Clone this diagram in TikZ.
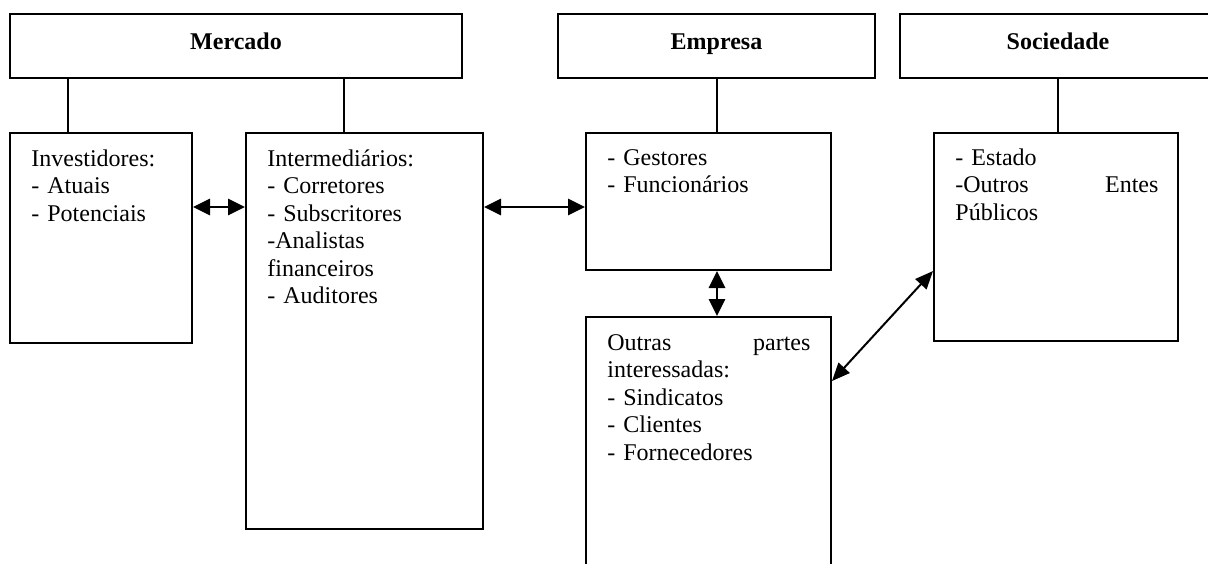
\documentclass[tikz,border=0pt]{standalone}
\usepackage{fontspec}
\setmainfont{Liberation Serif}
\usetikzlibrary{arrows.meta}
\begin{document}
\begin{tikzpicture}[x=0.5pt,y=-0.5pt,
  box/.style={draw, line width=1pt, rectangle, inner sep=0pt},
  title/.style={anchor=base, inner sep=0pt, font=\fontsize{12}{13.75}\selectfont\bfseries},
  txt/.style={anchor=base west, inner sep=0pt, align=left, font=\fontsize{12}{13.75}\selectfont},
  conn/.style={line width=0.8pt},
  dbl/.style={{Triangle[length=8.5pt,width=8pt]}-{Triangle[length=8.5pt,width=8pt]}, line width=1.4pt},
  dbldiag/.style={{Triangle[length=9pt,width=7.5pt]}-{Triangle[length=9pt,width=7.5pt]}, line width=1pt}]
\useasboundingbox (0,0) rectangle (1208,563);
\clip (0,0) rectangle (1208,563);
% top boxes
\node[box, minimum width=226pt, minimum height=32pt] (mercado) at (236,46) {};
\node[title] (tmerc) at (236,49) {Mercado};
\node[box, minimum width=158.5pt, minimum height=32pt] (empresa) at (716.5,46) {};
\node[title] (temp) at (716.5,49) {Empresa};
\node[box, minimum width=158pt, minimum height=32pt] (sociedade) at (1058,46) {};
\node[title] (tsoc) at (1058,49) {Sociedade};
% lower boxes
\node[box, minimum width=91pt, minimum height=105pt] (invest) at (101,238) {};
\node[txt, text width=75pt] (tinv) at (31,166) {Investidores:\\- Atuais\\- Potenciais};
\node[box, minimum width=118.5pt, minimum height=198pt] (interm) at (364.5,331) {};
\node[txt, text width=98pt] (tint) at (267,166) {Intermediários:\\- Corretores\\- Subscritores\\-Analistas\\financeiros\\- Auditores};
\node[box, minimum width=122.5pt, minimum height=68.5pt] (gest) at (708.5,201.5) {};
\node[txt, text width=101.5pt] (tgest) at (607,165) {- Gestores\\- Funcionários};
\node[box, minimum width=122.5pt, minimum height=151.5pt] (outras) at (708.5,468.5) {};
\node[txt, text width=101.5pt] (tout) at (607,350) {\makebox[101.5pt][s]{Outras\hfill partes}\\interessadas:\\- Sindicatos\\- Clientes\\- Fornecedores};
\node[box, minimum width=122pt, minimum height=104pt] (estado) at (1056,237) {};
\node[txt, text width=101.5pt] (test) at (955,165) {- Estado\\\makebox[101.5pt][s]{-Outros\hfill Entes}\\Públicos};
% vertical connectors
\coordinate (l1) at (68,0);
\coordinate (l2) at (344,0);
\coordinate (l3) at (717,0);
\coordinate (l4) at (1058,0);
\draw[conn] (mercado.south -| l1) -- (invest.north -| l1);
\draw[conn] (mercado.south -| l2) -- (interm.north -| l2);
\draw[conn] (empresa.south -| l3) -- (gest.north -| l3);
\draw[conn] (sociedade.south -| l4) -- (estado.north -| l4);
% arrows
\coordinate (h1) at (0,207);
\draw[dbl] (invest.east |- h1) -- (interm.west |- h1);
\draw[dbl] (interm.east |- h1) -- (gest.west |- h1);
\draw[dbl] (gest.south -| l3) -- (outras.north -| l3);
\coordinate (d1) at (0,381);
\coordinate (d2) at (0,271);
\draw[dbldiag] (outras.east |- d1) -- (estado.west |- d2);
\end{tikzpicture}
\end{document}
